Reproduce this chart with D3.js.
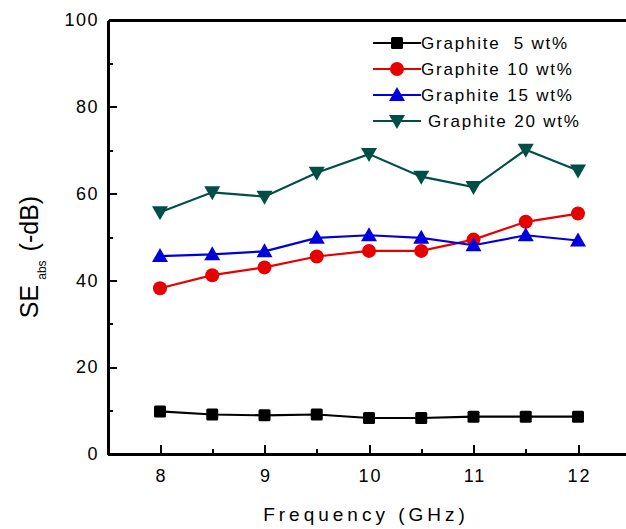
<!DOCTYPE html>
<html>
<head>
<meta charset="utf-8">
<script src="https://cdn.jsdelivr.net/npm/d3@7"></script>
<style>
  body { margin: 0; background: #fff; }
  svg { display: block; font-family: "Liberation Sans", Arial, sans-serif; }
</style>
</head>
<body>
<svg id="chart" width="626" height="529"></svg>
<script>
// Data
const freqs = [8, 8.5, 9, 9.5, 10, 10.5, 11, 11.5, 12];
const g5  = [9.8, 9.1, 8.9, 9.1, 8.3, 8.3, 8.6, 8.6, 8.6];
const g10 = [38.2, 41.2, 43.0, 45.5, 46.8, 46.8, 49.4, 53.5, 55.4];
const g15 = [45.6, 46.0, 46.7, 49.8, 50.4, 49.8, 48.1, 50.4, 49.2];
const g20 = [55.7, 60.3, 59.3, 64.8, 69.1, 63.9, 61.5, 70.1, 65.3];
const seriesNames = ["Graphite  5 wt%", "Graphite 10 wt%", "Graphite 15 wt%", "Graphite 20 wt%"];
const seriesColors = ["#000000", "#e60000", "#0000dd", "#004f47"];
const seriesSymbols = ["square", "circle", "triUp", "triDown"];
const xTicks = [8, 9, 10, 11, 12];
const xMinorTicks = [8.5, 9.5, 10.5, 11.5];
const yTicks = [0, 20, 40, 60, 80, 100];
const yMinorTicks = [10, 30, 50, 70, 90];

const allSeries = [g5, g10, g15, g20];

const svg = d3.select('#chart');
const chartW = 626;
const plotLeft = 108, plotTop = 20, plotBottom = 454;
const fontFam = '"Liberation Sans", Arial, sans-serif';

// scales (right side of the plot runs off the image)
const x = d3.scaleLinear()
    .domain([8 - (160 - plotLeft) / 104.5, 8 + (chartW - 160) / 104.5])
    .range([plotLeft, chartW]);
const y = d3.scaleLinear().domain([0, 100]).range([plotBottom, plotTop]);

function styleAxis(g) {
    g.selectAll('.domain').style('stroke', '#000').style('stroke-width', '3px')
        .attr('shape-rendering', 'crispEdges');
    g.selectAll('.tick line').style('stroke', '#000').style('stroke-width', '2px')
        .attr('shape-rendering', 'crispEdges');
    g.selectAll('text').attr('font-family', fontFam).attr('fill', '#000');
}

// bottom axis: inward ticks
const gx = svg.append('g').attr('transform', `translate(0,${plotBottom})`)
    .call(d3.axisBottom(x).tickValues(xTicks).tickFormat(d3.format('d'))
        .tickSizeInner(-9).tickSizeOuter(0).tickPadding(15));
styleAxis(gx);
gx.selectAll('text').attr('font-size', 18).attr('letter-spacing', 2).attr('dx', 1);

const gxm = svg.append('g').attr('transform', `translate(0,${plotBottom})`)
    .call(d3.axisBottom(x).tickValues(xMinorTicks).tickFormat('').tickSize(-5));
gxm.select('.domain').remove();
styleAxis(gxm);

// top line
const gtop = svg.append('g').attr('transform', `translate(0,${plotTop})`)
    .call(d3.axisTop(x).tickValues([]).tickSizeOuter(0));
styleAxis(gtop);

// left axis: inward ticks
const gy = svg.append('g').attr('transform', `translate(${plotLeft},0)`)
    .call(d3.axisLeft(y).tickValues(yTicks).tickSizeInner(-9).tickSizeOuter(0).tickPadding(9));
styleAxis(gy);
gy.selectAll('text').attr('font-size', 18).attr('letter-spacing', 1.5);

const gym = svg.append('g').attr('transform', `translate(${plotLeft},0)`)
    .call(d3.axisLeft(y).tickValues(yMinorTicks).tickFormat('').tickSize(-5));
gym.select('.domain').remove();
styleAxis(gym);

// axis titles
svg.append('text')
    .attr('x', 366).attr('y', 521)
    .attr('text-anchor', 'middle')
    .attr('font-size', 19)
    .attr('letter-spacing', 4)
    .text('Frequency (GHz)');

const yt = svg.append('text')
    .attr('transform', 'translate(38,257) rotate(-90)')
    .attr('text-anchor', 'middle')
    .attr('font-size', 25);
yt.append('tspan').text('SE');
yt.append('tspan').attr('font-size', 12).attr('dy', 8).attr('dx', 5).text('abs');
yt.append('tspan').attr('dy', -8).attr('dx', 9).text('(-dB)');

// marker drawing
function drawMarker(sel, kind, color) {
    if (kind === 'square') {
        sel.append('rect').attr('x', -6).attr('y', -6).attr('width', 12).attr('height', 12)
            .attr('rx', 1.5).attr('fill', color);
    } else if (kind === 'circle') {
        sel.append('circle').attr('r', 7).attr('fill', color);
    } else if (kind === 'triUp') {
        sel.append('path').attr('d', 'M0,-8 L8,6 L-8,6 Z').attr('fill', color);
    } else {
        sel.append('path').attr('d', 'M0,8 L8,-6 L-8,-6 Z').attr('fill', color);
    }
}

const line = d3.line().x(d => x(d[0])).y(d => y(d[1]));

allSeries.forEach((vals, i) => {
    const pts = freqs.map((f, j) => [f, vals[j]]);
    svg.append('path')
        .datum(pts)
        .attr('d', line)
        .attr('fill', 'none')
        .attr('stroke', seriesColors[i])
        .attr('stroke-width', 2.2);
    const m = svg.append('g').selectAll('g')
        .data(pts)
        .join('g')
        .attr('transform', d => `translate(${x(d[0])},${y(d[1])})`);
    drawMarker(m, seriesSymbols[i], seriesColors[i]);
});

// legend
const legendY = [43, 69, 95, 121];
const legendTextX = [421, 421, 421, 428];
seriesNames.forEach((name, i) => {
    const g = svg.append('g').attr('transform', `translate(0,${legendY[i]})`);
    g.append('line').attr('x1', 373).attr('x2', 421).attr('y1', 0).attr('y2', 0)
        .attr('stroke', seriesColors[i]).attr('stroke-width', 2.2);
    drawMarker(g.append('g').attr('transform', 'translate(397,0)'), seriesSymbols[i], seriesColors[i]);
    g.append('text')
        .attr('x', legendTextX[i]).attr('y', 6)
        .attr('font-size', 17)
        .attr('letter-spacing', 1.8)
        .style('white-space', 'pre')
        .text(name);
});
</script>
</body>
</html>
